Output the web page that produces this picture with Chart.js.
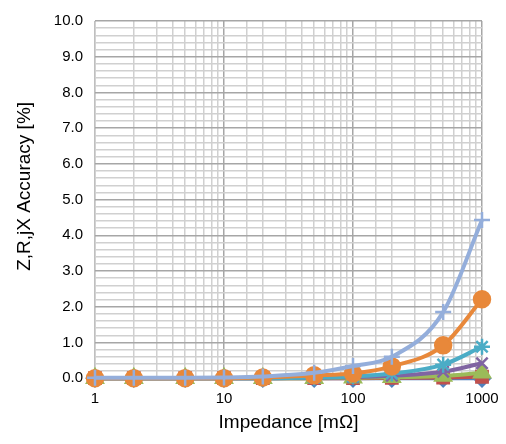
<!DOCTYPE html>
<html>
<head>
<meta charset="utf-8">
<script src="https://cdn.jsdelivr.net/npm/chart.js@4"></script>
<style>
  html, body { margin: 0; padding: 0; background: #fff; }
  #wrap { width: 506px; height: 444px; }
</style>
</head>
<body>
<div id="wrap"><canvas id="chart" width="506" height="444"></canvas></div>
<script>
// === Data ===
const impedance = [1, 2, 5, 10, 20, 50, 100, 200, 500, 1000];
const seriesA = [0, 0, 0, 0, 0, 0, 0, 0, 0, 0];
const seriesB = [0, 0, 0, 0, 0, 0, 0, 0.01, 0.02, 0.04];
const seriesC = [0, 0, 0, 0, 0, 0, 0.01, 0.03, 0.06, 0.15];
const seriesD = [0, 0, 0, 0, 0, 0.01, 0.03, 0.07, 0.18, 0.42];
const seriesE = [0, 0, 0, 0, 0, 0.02, 0.05, 0.13, 0.38, 0.88];
const seriesF = [0, 0, 0, 0, 0.02, 0.08, 0.13, 0.33, 0.92, 2.21];
const seriesG = [0.01, 0.01, 0.01, 0.02, 0.05, 0.15, 0.34, 0.6, 1.85, 4.43];
const xTickLabels = [1, 10, 100, 1000];

const FONT = "'Liberation Sans', Arial, sans-serif";

function makeSet(values, color, style, order, radius) {
  return {
    data: values.map((v, i) => ({ x: impedance[i], y: v })),
    borderColor: color,
    backgroundColor: color,
    borderWidth: 4,
    pointStyle: style,
    pointRadius: radius,
    pointBorderWidth: 2.5,
    pointBorderColor: color,
    pointBackgroundColor: color,
    cubicInterpolationMode: "monotone",
    clip: false,
    order,
  };
}

const ctx = document.getElementById("chart").getContext("2d");
new Chart(ctx, {
  type: "line",
  data: {
    datasets: [
      makeSet(seriesA, "#4F81BD", "rectRot", 7, 8),
      makeSet(seriesB, "#C0504D", "rect", 6, 8),
      makeSet(seriesC, "#9BBB59", "triangle", 5, 9),
      makeSet(seriesD, "#8064A2", "crossRot", 4, 8),
      makeSet(seriesE, "#4BACC6", "star", 3, 8),
      makeSet(seriesF, "#E8883A", "circle", 2, 8),
      makeSet(seriesG, "#94AEDB", "cross", 1, 8),
    ],
  },
  options: {
    responsive: false,
    animation: false,
    layout: { padding: { left: 9, right: 24, top: 12, bottom: 10 } },
    plugins: { legend: { display: false }, tooltip: { enabled: false } },
    scales: {
      x: {
        type: "logarithmic",
        min: 1,
        max: 1000,
        // let the "1000" label hang past the plot edge
        afterFit: (s) => { s.paddingRight = 0; },
        border: { color: "#BFBFBF" },
        grid: {
          color: (c) => (xTickLabels.includes(c.tick.value) ? "#A6A6A6" : "#D0D0D0"),
          lineWidth: 1.5,
          drawTicks: false,
        },
        ticks: {
          autoSkip: false,
          maxRotation: 0,
          padding: 12,
          color: "#000",
          font: { family: FONT, size: 15 },
          callback: (v) => (xTickLabels.includes(v) ? String(v) : ""),
        },
        title: {
          display: true,
          text: "Impedance [mΩ]",
          color: "#000",
          font: { family: FONT, size: 19 },
          padding: { top: -9, bottom: 0 },
        },
      },
      y: {
        min: 0,
        max: 10,
        border: { color: "#BFBFBF" },
        grid: {
          color: (c) => (Math.abs(c.tick.value - Math.round(c.tick.value)) < 1e-6 ? "#A6A6A6" : "#D0D0D0"),
          lineWidth: 1.5,
          drawTicks: false,
        },
        ticks: {
          stepSize: 0.2,
          autoSkip: false,
          padding: 12,
          color: "#000",
          font: { family: FONT, size: 15 },
          callback: (v) => (Math.abs(v - Math.round(v)) < 1e-6 ? Math.round(v).toFixed(1) : ""),
        },
        title: {
          display: true,
          // leading spaces nudge the rotated title upward like the original
          text: "     Z,R,jX Accuracy [%]",
          color: "#000",
          font: { family: FONT, size: 19 },
          padding: { bottom: 6 },
        },
      },
    },
  },
});
</script>
</body>
</html>
